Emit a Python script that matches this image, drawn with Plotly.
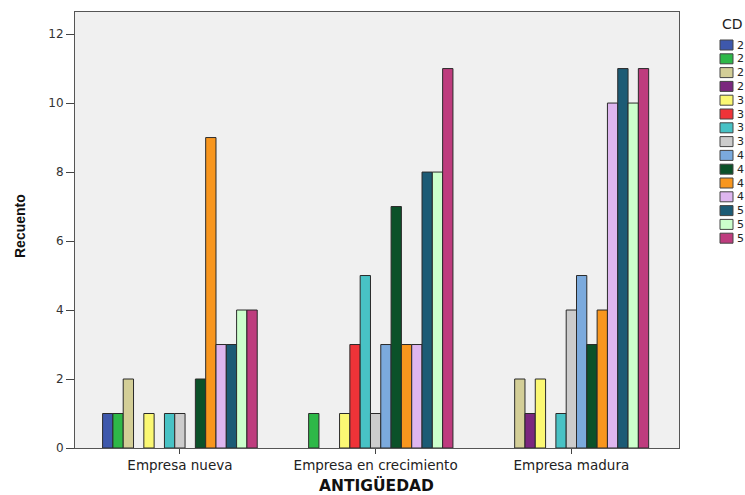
import plotly.graph_objects as go

categories = ["Empresa nueva", "Empresa en crecimiento", "Empresa madura"]
series_names = ["2", "2", "2", "2", "3", "3", "3", "3", "4", "4", "4", "4", "5", "5", "5"]
series_colors = ["#3E58AC", "#2EB848", "#D3CE97", "#7B277E", "#FBF873", "#EF3338",
                 "#48C2C5", "#CCCCCC", "#7BAADD", "#0B5129", "#F8961E", "#DEB6EF",
                 "#1C5B75", "#CCFFCC", "#BE3C7E"]
# counts per series: [nueva, crecimiento, madura]
values = [
    [1, 0, 0],
    [1, 1, 0],
    [2, 0, 2],
    [0, 0, 1],
    [1, 1, 2],
    [0, 3, 0],
    [1, 5, 1],
    [1, 1, 4],
    [0, 3, 5],
    [2, 7, 3],
    [9, 3, 4],
    [3, 3, 10],
    [3, 8, 11],
    [4, 8, 10],
    [4, 11, 11],
]
y_ticks = [0, 2, 4, 6, 8, 10, 12]

W, H = 745, 495
L, R, T, B = 75, 679, 12, 448
WIDE = "DejaVu Sans"

fig = go.Figure()
for name, col, vals in zip(series_names, series_colors, values):
    fig.add_trace(go.Bar(
        x=categories, y=[v if v else None for v in vals], name=name,
        marker=dict(color=col, line=dict(color="#2a2a2a", width=1)),
        showlegend=False,
    ))

def px(x):
    return (x - L) / (R - L)

def py(y):
    return (B - y) / (B - T)

shapes = []
annotations = []
# legend (drawn manually to match compact spacing)
annotations.append(dict(text="CD", x=px(720), y=py(24), xref="paper", yref="paper",
                        xanchor="left", yanchor="middle", showarrow=False,
                        font=dict(size=14, color="#222", family=WIDE)))
for i, (name, col) in enumerate(zip(series_names, series_colors)):
    cy = 45 + i * 13.8
    shapes.append(dict(type="rect", xref="paper", yref="paper",
                       x0=px(720), x1=px(733), y0=py(cy + 5), y1=py(cy - 5),
                       fillcolor=col, line=dict(color="#444", width=1)))
    annotations.append(dict(text=name, x=px(735), y=py(cy), xref="paper", yref="paper",
                            xanchor="left", yanchor="middle", showarrow=False,
                            font=dict(size=11, color="#222", family=WIDE)))
# axis titles
annotations.append(dict(text="<b>Recuento</b>", x=px(20), y=py(226), xref="paper", yref="paper",
                        textangle=-90, showarrow=False, xanchor="center", yanchor="middle",
                        font=dict(size=14, color="#111", family="Liberation Sans")))
annotations.append(dict(text="<b>ANTIGÜEDAD</b>", x=px(376), y=py(485), xref="paper", yref="paper",
                        showarrow=False, xanchor="center", yanchor="middle",
                        font=dict(size=15.5, color="#111", family=WIDE)))

fig.update_layout(
    width=W, height=H,
    margin=dict(l=L, r=W - R, t=T, b=H - B, autoexpand=False),
    paper_bgcolor="white", plot_bgcolor="#F0F0F0",
    barmode="group", bargap=0.21, bargroupgap=0,
    font=dict(family=WIDE, size=12, color="#333"),
    shapes=shapes, annotations=annotations,
    showlegend=False,
)
fig.update_xaxes(
    type="category", range=[-0.536, 2.55], showline=True, linecolor="#555", linewidth=1,
    mirror=True, ticks="outside", ticklen=5, tickcolor="#444", showgrid=False,
    tickfont=dict(size=13.5, color="#222", family=WIDE), automargin=False,
)
fig.update_yaxes(
    range=[0, 12.64], tickvals=y_ticks, showline=True, linecolor="#555", linewidth=1,
    mirror=True, ticks="outside", ticklen=8, tickcolor="#444", showgrid=False,
    zeroline=False, tickfont=dict(size=12, color="#333", family=WIDE), automargin=False,
)

fig.write_html(
    "out.html",
    config={"displayModeBar": False},
    post_script="document.body.style.margin='0';document.body.style.overflow='hidden';",
)
